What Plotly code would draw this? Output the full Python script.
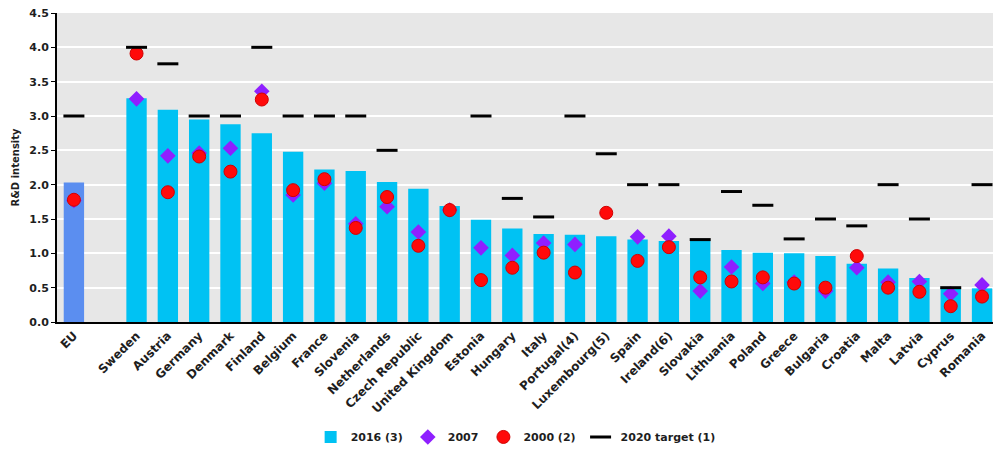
import plotly.graph_objects as go

categories = ["EU", " ", "Sweden", "Austria", "Germany", "Denmark", "Finland", "Belgium", "France",
              "Slovenia", "Netherlands", "Czech Republic", "United Kingdom", "Estonia", "Hungary",
              "Italy", "Portugal(4)", "Luxembourg(5)", "Spain", "Ireland(6)", "Slovakia", "Lithuania",
              "Poland", "Greece", "Bulgaria", "Croatia", "Malta", "Latvia", "Cyprus", "Romania"]

val_2016 = [2.03, None, 3.26, 3.09, 2.95, 2.88, 2.75, 2.48, 2.22, 2.20, 2.04, 1.94, 1.69, 1.49,
            1.36, 1.28, 1.27, 1.25, 1.20, 1.18, 1.18, 1.05, 1.01, 1.00, 0.96, 0.85, 0.78, 0.64,
            0.50, 0.49]
val_2007 = [1.77, None, 3.25, 2.42, 2.46, 2.53, 3.36, 1.85, 2.02, 1.43, 1.68, 1.31, 1.63, 1.08,
            0.97, 1.15, 1.13, None, 1.24, 1.25, 0.45, 0.80, 0.56, 0.58, 0.45, 0.79, 0.58, 0.59,
            0.41, 0.54]
val_2000 = [1.78, None, 3.91, 1.89, 2.41, 2.19, 3.24, 1.92, 2.08, 1.37, 1.82, 1.11, 1.63, 0.61,
            0.79, 1.01, 0.72, 1.59, 0.89, 1.09, 0.65, 0.59, 0.65, 0.56, 0.50, 0.96, 0.50, 0.44,
            0.23, 0.37]
target_2020 = [3.0, None, 4.0, 3.76, 3.0, 3.0, 4.0, 3.0, 3.0, 3.0, 2.5, None, None, 3.0,
               1.8, 1.53, 3.0, 2.45, 2.0, 2.0, 1.2, 1.9, 1.7, 1.21, 1.5, 1.4, 2.0, 1.5,
               0.5, 2.0]

y_ticks = [0.0, 0.5, 1.0, 1.5, 2.0, 2.5, 3.0, 3.5, 4.0, 4.5]

FONT = "DejaVu Sans"
TXT = "#1E1E1E"
EU_COLOR = "#5B8EF0"
BAR_COLOR = "#00C2F3"

eu_only = [v if c == "EU" else None for c, v in zip(categories, val_2016)]
countries_only = [None if c == "EU" else v for c, v in zip(categories, val_2016)]

fig = go.Figure()
fig.add_trace(go.Bar(x=categories, y=countries_only, name="<b>2016 (3)</b>",
                     marker=dict(color=BAR_COLOR, line=dict(width=0)), width=0.65))
fig.add_trace(go.Bar(x=categories, y=eu_only, name="EU 2016", showlegend=False,
                     marker=dict(color=EU_COLOR, line=dict(width=0)), width=0.65))
fig.add_trace(go.Scatter(x=categories, y=val_2007, name="<b>2007</b>", mode="markers",
                         marker=dict(symbol="diamond", size=12, color="#8F1FFF",
                                     line=dict(width=0))))
fig.add_trace(go.Scatter(x=categories, y=val_2000, name="<b>2000 (2)</b>", mode="markers",
                         marker=dict(symbol="circle", size=13, color="#FF0A0A",
                                     line=dict(width=1, color="#D00000"))))
fig.add_trace(go.Scatter(x=categories, y=target_2020, name="<b>2020 target (1)</b>", mode="markers",
                         marker=dict(symbol="line-ew", size=15, color="black",
                                     line=dict(width=3, color="black"))))

fig.update_layout(
    width=993, height=456,
    margin=dict(l=57, r=0, t=13, b=134),
    paper_bgcolor="white",
    plot_bgcolor="#E7E7E7",
    font=dict(family=FONT, size=11, color=TXT),
    showlegend=True,
    hovermode=False,
    barmode="overlay",
    legend=dict(orientation="h", x=0.49, xanchor="center", y=-0.372, yanchor="middle",
                font=dict(family=FONT, size=11, color=TXT), itemwidth=30,
                bgcolor="rgba(0,0,0,0)", traceorder="normal"),
)
fig.update_xaxes(
    type="category", categoryorder="array", categoryarray=categories,
    range=[-0.54, 29.35], tickangle=-45,
    tickfont=dict(family=FONT, size=12, color=TXT, weight="bold"),
    showline=True, linecolor="black", linewidth=2, showgrid=False, ticks="",
    fixedrange=True,
)
fig.update_yaxes(
    range=[0, 4.5], tickvals=y_ticks, ticktext=[f"<b>{v:.1f}</b>" for v in y_ticks],
    tickfont=dict(family=FONT, size=11, color=TXT),
    showline=True, linecolor="black", linewidth=2, ticks="outside", ticklen=4,
    tickcolor="black", showgrid=True, gridcolor="white", gridwidth=2, zeroline=False,
    title=dict(text="<b>R&D intensity</b>", font=dict(family=FONT, size=10, color=TXT),
               standoff=8),
    fixedrange=True,
)

# remove the default 8px page margin so the figure sits at the window's top-left corner
fig.write_html("out.html", config={"displayModeBar": False},
               post_script="document.body.style.margin='0px';")
